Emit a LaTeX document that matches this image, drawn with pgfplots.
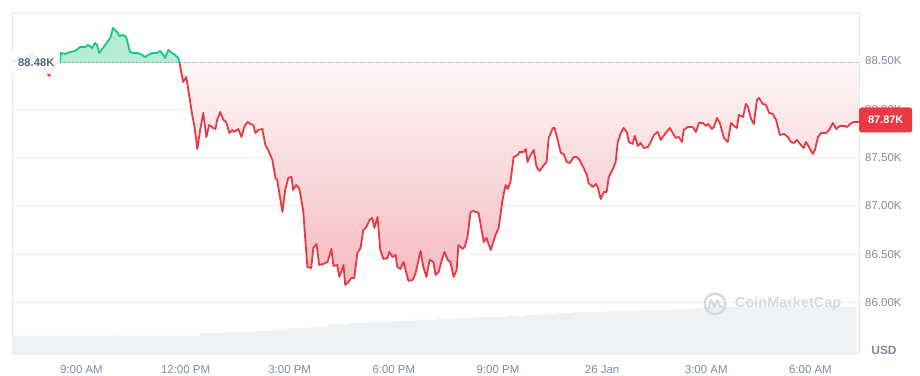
\documentclass[border=0pt]{standalone}
\usepackage{pgfplots}
\pgfplotsset{compat=1.18}
\usepackage{pgfplotstable}
\usepgfplotslibrary{fillbetween}
\usepackage{fontspec}
\setmainfont{Liberation Sans}
\definecolor{cmcred}{RGB}{234,57,67}
\definecolor{cmcgreen}{RGB}{22,199,132}
\definecolor{greenfill}{RGB}{182,236,214}
\definecolor{redtop}{RGB}{254,247,248}
\definecolor{redbot}{RGB}{245,186,192}
\definecolor{labelgray}{RGB}{128,138,157}
\definecolor{darkslate}{RGB}{88,102,126}
\definecolor{gridgray}{RGB}{236,238,241}
\definecolor{bordergray}{RGB}{230,232,236}
\definecolor{volgray}{RGB}{239,242,245}
\definecolor{wmgray}{RGB}{213,217,224}
\definecolor{dotgray}{RGB}{150,155,165}

\pgfplotstableread{
h p
7.00 88.500
7.29 88.510
7.58 88.583
7.81 88.490
8.07 88.345
8.24 88.469
8.38 88.490
8.41 88.583
8.53 88.572
8.67 88.593
8.82 88.604
8.96 88.645
9.11 88.645
9.19 88.666
9.31 88.635
9.39 88.686
9.45 88.666
9.51 88.583
9.62 88.635
9.83 88.738
9.91 88.842
10.03 88.800
10.09 88.759
10.20 88.769
10.29 88.748
10.40 88.593
10.49 88.583
10.63 88.583
10.75 88.562
10.84 88.541
10.92 88.562
11.04 88.583
11.18 88.583
11.27 88.604
11.36 88.562
11.41 88.531
11.50 88.614
11.61 88.583
11.70 88.562
11.79 88.531
11.82 88.490
11.93 88.283
12.02 88.334
12.08 88.200
12.19 87.941
12.25 87.837
12.34 87.589
12.42 87.786
12.51 87.962
12.60 87.713
12.68 87.837
12.80 87.806
12.86 87.796
12.91 87.889
13.00 87.972
13.09 87.889
13.17 87.869
13.26 87.755
13.35 87.786
13.40 87.765
13.52 87.796
13.61 87.713
13.69 87.817
13.78 87.869
13.87 87.848
13.95 87.837
14.01 87.755
14.10 87.786
14.21 87.796
14.30 87.630
14.38 87.579
14.50 87.475
14.59 87.289
14.64 87.268
14.79 86.937
14.87 87.165
14.96 87.289
15.05 87.299
15.10 87.165
15.19 87.216
15.28 87.175
15.39 86.947
15.45 86.647
15.51 86.367
15.62 86.357
15.68 86.564
15.77 86.606
15.85 86.388
15.97 86.399
16.09 86.419
16.20 86.554
16.26 86.378
16.37 86.388
16.43 86.264
16.55 86.388
16.60 86.181
16.69 86.212
16.78 86.254
16.86 86.254
16.95 86.512
17.04 86.564
17.12 86.750
17.21 86.782
17.30 86.854
17.38 86.875
17.44 86.771
17.53 86.885
17.61 86.543
17.70 86.450
17.82 86.461
17.87 86.523
17.96 86.471
18.05 86.492
18.10 86.367
18.19 86.347
18.28 86.419
18.42 86.223
18.54 86.233
18.62 86.295
18.77 86.533
18.85 86.367
18.94 86.264
19.03 86.440
19.14 86.419
19.20 86.285
19.29 86.316
19.40 86.461
19.46 86.523
19.55 86.440
19.63 86.419
19.72 86.264
19.81 86.336
19.86 86.595
19.98 86.554
20.04 86.575
20.12 86.678
20.21 86.937
20.30 86.947
20.44 86.927
20.59 86.626
20.67 86.668
20.79 86.543
20.93 86.699
21.02 86.771
21.13 87.061
21.22 87.216
21.28 87.175
21.36 87.247
21.45 87.506
21.57 87.527
21.62 87.558
21.74 87.558
21.80 87.589
21.85 87.454
21.94 87.527
22.03 87.579
22.11 87.403
22.20 87.361
22.32 87.423
22.40 87.454
22.46 87.703
22.58 87.806
22.63 87.806
22.72 87.682
22.81 87.548
22.89 87.537
22.98 87.454
23.07 87.444
23.18 87.506
23.27 87.506
23.35 87.475
23.47 87.392
23.56 87.320
23.61 87.237
23.73 87.196
23.82 87.227
23.87 87.196
23.96 87.071
24.05 87.144
24.13 87.144
24.19 87.299
24.31 87.382
24.39 87.454
24.45 87.661
24.54 87.755
24.62 87.806
24.71 87.765
24.77 87.661
24.88 87.641
24.94 87.724
25.03 87.620
25.11 87.651
25.20 87.599
25.32 87.610
25.40 87.661
25.49 87.734
25.60 87.765
25.69 87.682
25.83 87.755
25.95 87.806
26.12 87.703
26.21 87.713
26.30 87.661
26.35 87.786
26.47 87.817
26.61 87.817
26.70 87.765
26.79 87.858
26.90 87.858
26.99 87.827
27.05 87.848
27.16 87.796
27.22 87.817
27.31 87.910
27.39 87.858
27.51 87.703
27.62 87.661
27.71 87.858
27.80 87.827
27.88 87.806
27.94 87.941
28.06 87.920
28.14 88.055
28.20 88.024
28.29 87.900
28.37 87.848
28.46 88.096
28.52 88.117
28.63 88.055
28.72 88.045
28.81 87.962
28.92 87.951
29.01 87.889
29.12 87.734
29.24 87.744
29.35 87.713
29.44 87.661
29.53 87.651
29.61 87.682
29.70 87.641
29.81 87.599
29.87 87.661
29.96 87.610
30.07 87.537
30.13 87.579
30.22 87.713
30.31 87.755
30.45 87.755
30.54 87.786
30.65 87.858
30.74 87.796
30.85 87.827
30.97 87.827
31.06 87.817
31.14 87.848
31.26 87.869
31.40 87.870
}\pricedata

\pgfplotstableread{
h v
7.00 5.0
9.95 5.3
10.10 5.0
12.42 5.9
13.09 6.2
13.95 6.5
14.44 6.7
14.93 7.3
15.60 7.6
16.09 8.5
16.69 8.8
17.27 9.1
17.99 9.4
18.62 9.7
19.20 10.0
19.80 10.3
20.30 10.6
21.28 10.9
21.75 11.1
22.23 11.4
22.70 11.7
23.18 12.0
24.16 12.3
25.11 12.6
26.07 12.9
26.64 13.2
27.05 13.5
31.31 13.5
}\voldata

\begin{document}
\begin{tikzpicture}
% volume layer
\begin{axis}[at={(12bp,23bp)}, anchor=south west, width=847bp, height=341bp,
  scale only axis, xmin=7, xmax=31.4, ymin=0, ymax=100, axis lines=none, ticks=none]
\addplot[const plot, fill=volgray, draw=none] table[x=h,y=v]{\voldata} \closedcycle;
\end{axis}
% price layer
\begin{axis}[at={(12bp,23bp)}, anchor=south west, width=847bp, height=341bp,
  scale only axis, xmin=7, xmax=31.4, ymin=85.477, ymax=89.007,
  xtick={9,12,15,18,21,24,27,30},
  xticklabels={9:00 AM,12:00 PM,3:00 PM,6:00 PM,9:00 PM,26 Jan,3:00 AM,6:00 AM},
  ytick={86,86.5,87,87.5,88},
  yticklabels={86.00K,86.50K,87.00K,87.50K,88.00K},
  extra y ticks={88.5}, extra y tick labels={88.50K},
  extra tick style={grid=none},
  yticklabel pos=right,
  ymajorgrids, grid style={draw=gridgray, line width=0.8bp},
  major tick length=0pt,
  axis line style={draw=bordergray, line width=0.8bp},
  tick label style={font=\fontsize{11.5}{13}\selectfont, text=labelgray},
  xticklabel style={anchor=base, yshift=-20.4bp},
  yticklabel style={anchor=west, inner sep=0pt, xshift=6bp},
  clip=true]
\addplot[name path=price, draw=none] table[x=h,y=p]{\pricedata};
\addplot[name path=base, draw=none] coordinates {(7,88.48) (31.4,88.48)};
\addplot[greenfill, draw=none] fill between[of=price and base,
   soft clip={(axis cs:7,88.48) rectangle (axis cs:31.4,89.2)}];
\addplot[draw=none, top color=redtop, bottom color=redbot] fill between[of=price and base,
   soft clip={(axis cs:7,85) rectangle (axis cs:31.4,88.48)}];
\addplot[dotgray, line width=1.1bp, dash pattern=on 1.1bp off 2.9bp] coordinates {(7,88.48) (31.4,88.48)};
\begin{scope}
\clip (axis cs:7,85) rectangle (axis cs:31.4,88.48);
\addplot[cmcred, line width=1.8bp, line join=round] table[x=h,y=p]{\pricedata};
\end{scope}
\begin{scope}
\clip (axis cs:7,88.48) rectangle (axis cs:31.4,89.2);
\addplot[cmcgreen, line width=1.8bp, line join=round] table[x=h,y=p]{\pricedata};
\end{scope}
\node[fill=white, fill opacity=0.88, text opacity=1, text=darkslate,
  font=\bfseries\fontsize{11.3}{12}\selectfont, inner sep=0pt,
  minimum width=48bp, minimum height=22bp]
  at (axis cs:7.70,88.48) {88.48K};
\end{axis}
% current price tag
\node[fill=cmcred, rounded corners=2.5bp, text=white, font=\bfseries\fontsize{11}{12}\selectfont,
  anchor=west, minimum height=25bp, minimum width=53bp, inner sep=0pt] at (859bp,256bp) {87.87K};
\node[text=labelgray, font=\bfseries\fontsize{12}{14}\selectfont] at (884bp,26bp) {USD};
% watermark
\draw[wmgray, line width=2.4bp] (715bp,72bp) circle (10.3bp);
\draw[wmgray, line width=2.2bp, line join=round, line cap=round]
  (708.5bp,67.5bp) -- (711bp,76bp) -- (714.5bp,69bp) -- (717.5bp,76bp) -- (720bp,69bp) -- (722bp,70bp);
\node[anchor=base west, inner sep=0pt, text=wmgray, font=\bfseries\fontsize{14.5}{16}\selectfont]
  at (735bp,68bp) {CoinMarketCap};
\pgfresetboundingbox
\path[use as bounding box] (0,0) rectangle (920bp,376bp);
\end{tikzpicture}
\end{document}
